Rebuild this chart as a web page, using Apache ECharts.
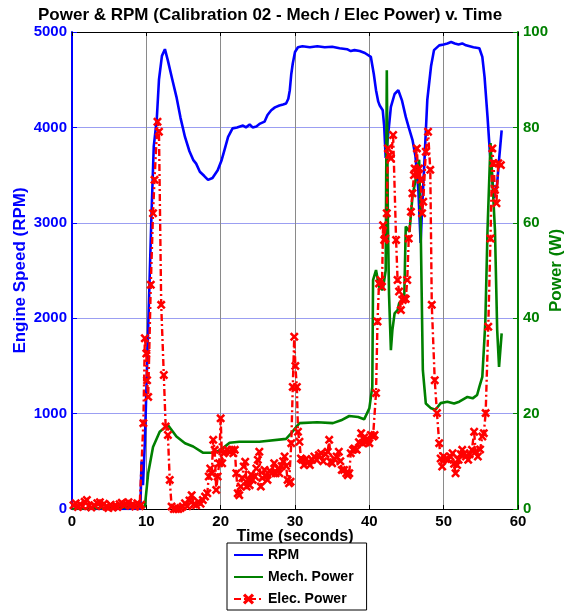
<!DOCTYPE html>
<html>
<head>
<meta charset="utf-8">
<script src="https://cdn.jsdelivr.net/npm/echarts@6/dist/echarts.min.js"></script>
<style>
  html, body { margin: 0; padding: 0; background: #fff; }
  #chart { width: 570px; height: 613px; }
</style>
</head>
<body>
<div id="chart"></div>
<script>
// Engine speed trace (seconds, RPM)
const rpmTime = [0, 9.2, 9.35, 9.55, 9.8, 10.1, 10.4, 10.7, 11.0, 11.4, 11.7, 12.1, 12.5, 12.9, 13.5, 14.05, 14.6, 15.2, 15.8, 16.3, 16.7, 17.2, 17.8, 18.3, 18.9, 19.6, 20.1, 20.5, 21.0, 21.6, 22.2, 22.6, 23.0, 23.4, 23.9, 24.3, 24.8, 25.3, 25.9, 26.3, 26.8, 27.3, 27.9, 28.4, 28.8, 29.1, 29.3, 29.5, 29.7, 30.0, 30.4, 31, 32, 33, 34, 35, 36, 37, 37.5, 38, 38.7, 39.4, 40.2, 40.6, 40.9, 41.2, 41.4, 41.8, 42.0, 42.2, 42.5, 42.9, 43.4, 43.9, 44.4, 44.9, 45.3, 45.8, 46.2, 46.6, 46.9, 47.1, 47.4, 47.8, 48.3, 48.7, 49.4, 50, 50.5, 51, 51.5, 52, 52.5, 53, 53.5, 54, 54.8, 55.2, 55.5, 55.9, 56.2, 56.55, 56.8, 57.2, 57.45, 57.8];
const rpmSpeed = [0, 0, 500, 250, 700, 1500, 2300, 3100, 3800, 4080, 4500, 4750, 4820, 4700, 4500, 4320, 4100, 3900, 3750, 3660, 3620, 3535, 3490, 3450, 3470, 3550, 3650, 3760, 3900, 3990, 4000, 4010, 4020, 4000, 4030, 4000, 4010, 4040, 4060, 4130, 4180, 4210, 4230, 4240, 4250, 4300, 4390, 4560, 4670, 4790, 4840, 4850, 4840, 4850, 4840, 4845, 4830, 4820, 4800, 4810, 4800, 4780, 4740, 4560, 4390, 4270, 4230, 4180, 4010, 3680, 3900, 4215, 4350, 4390, 4280, 4110, 4000, 3870, 3700, 3340, 2790, 3150, 3625, 4290, 4640, 4810, 4860, 4870, 4880, 4895, 4880, 4870, 4880, 4860, 4850, 4840, 4830, 4740, 4530, 4110, 3760, 3450, 3260, 3415, 3660, 3970];

// Mechanical power trace (seconds, W)
const mechTime = [0, 9.8, 10.25, 10.9, 11.8, 12.9, 14.05, 15.2, 16.3, 17.6, 19.2, 20.1, 21.2, 22.5, 25.2, 28.8, 29.5, 30.6, 33, 35.1, 36.2, 37.3, 38.5, 39.3, 40.0, 40.4, 40.5, 40.9, 41.3, 41.8, 42.2, 42.35, 42.5, 42.65, 42.9, 43.1, 43.4, 43.8, 44.0, 44.25, 44.7, 44.9, 45.4, 45.8, 46.3, 46.7, 46.9, 47.2, 47.6, 48.3, 48.9, 49.6, 50.5, 51.4, 52.1, 53.2, 53.9, 54.5, 54.8, 55.2, 55.6, 55.9, 56.3, 56.9, 57.2, 57.45, 57.8];
const mechPower = [0, 0.5, 7.5, 13, 16.2, 17.6, 15.2, 13.8, 13.1, 11.8, 11.8, 12.5, 13.9, 14.1, 14.1, 14.7, 15.9, 18.0, 18.2, 18.0, 18.6, 19.5, 19.3, 18.8, 21.1, 25.6, 48, 50.1, 46.6, 45.9, 50, 92, 60, 45, 33.3, 37.5, 41, 41.7, 43.1, 42.8, 44.5, 59.2, 58.1, 65.5, 69.7, 73.2, 60, 29.1, 22.1, 21.1, 20.8, 22.2, 22.5, 22.1, 22.5, 23.5, 23.2, 23.9, 25.6, 27.7, 39, 58.5, 76.7, 58.5, 37.5, 29.8, 36.8];

// Electrical power samples (seconds, W)
const elecTime = [0.2, 0.5, 0.8, 1.1, 1.4, 1.7, 2.0, 2.3, 2.6, 3.0, 3.4, 3.75, 4.0, 4.3, 4.6, 4.9, 5.2, 5.5, 5.8, 6.1, 6.4, 6.7, 7.0, 7.3, 7.6, 7.9, 8.2, 8.5, 8.8, 9.1, 9.3,
  9.6, 9.8, 10.0, 10.1, 10.25, 10.6, 10.9, 11.1, 11.5, 11.7, 12.0, 12.35, 12.6, 12.9, 13.15, 13.4, 13.7, 14.0, 14.3, 14.6, 14.9, 15.2, 15.5, 15.8, 16.1, 16.4, 16.7, 17.0, 17.3, 17.6, 17.9, 18.2, 18.4, 18.6, 18.8,
  19.0, 19.2, 19.4, 19.6, 19.8, 20.0, 20.2, 20.4, 20.6, 20.9, 21.2, 21.5, 21.7, 21.9, 22.1, 22.3, 22.5, 22.7, 22.9, 23.1, 23.3, 23.5, 23.7, 23.9, 24.1, 24.3, 24.6, 24.8, 25.0, 25.2, 25.4, 25.6, 25.9, 26.1, 26.3, 26.6, 26.9, 27.2, 27.4, 27.7, 27.9, 28.2, 28.4, 28.6, 28.8, 29.0, 29.2, 29.4, 29.5, 29.7, 29.9, 30.05, 30.25, 30.4, 30.6,
  30.8, 31.0, 31.2, 31.5, 31.8, 32.0, 32.3, 32.6, 32.9, 33.2, 33.5, 33.8, 34.1, 34.4, 34.6, 34.8, 35.0, 35.3, 35.6, 35.9, 36.1, 36.3, 36.6, 36.9, 37.1, 37.3, 37.5, 37.8, 38.0, 38.3, 38.6, 38.9, 39.1, 39.3, 39.5, 39.8, 40.0, 40.2, 40.5, 40.7, 40.9, 41.1, 41.3, 41.5, 41.7, 41.85, 42.0, 42.15, 42.35, 42.5, 42.7, 42.9, 43.2, 43.6, 43.8, 44.0, 44.25, 44.5, 44.7, 44.9, 45.1, 45.3, 45.6, 45.8, 46.0, 46.1, 46.4, 46.55, 46.7, 46.9, 47.1, 47.25, 47.6, 47.9, 48.2, 48.4, 48.8, 49.1, 49.4, 49.6, 49.8,
  50.0, 50.3, 50.6, 50.9, 51.2, 51.4, 51.6, 51.8, 52.0, 52.3, 52.5, 52.8, 53.0, 53.3, 53.5, 53.8, 54.1, 54.3, 54.6, 54.9, 55.2, 55.4, 55.65, 56.0, 56.3, 56.55, 56.7, 56.9, 57.1, 57.35, 57.7];
const elecPower = [0.8, 1.2, 0.4, 1.0, 0.6, 1.5, 1.9, 0.7, 0.3, 0.8, 1.2, 1.4, 0.6, 1.1, 0.5, 0.2, 0.9, 0.3, 0.7, 0.4, 1.0, 1.3, 0.8, 1.1, 1.4, 0.7, 1.0, 0.5, 1.2, 0.6, 0.9,
  18, 35.8, 32.6, 27, 23.5, 47, 62, 69, 81.2, 79.1, 42.8, 28.1, 17.3, 15.5, 6.1, 0.5, 0, 0, 0, 0.2, 0.5, 1.2, 0.6, 1.8, 2.9, 1.0, 0.8, 1.5, 1.1, 1.9, 2.6, 3.3, 6.8, 8.5, 7.5,
  14.5, 12.4, 4.0, 6.8, 9.6, 19.0, 9.6, 11.7, 12.0, 12.4, 12.0, 12.4, 11.7, 12.4, 7.5, 3.3, 2.9, 4.7, 6.5, 8.9, 9.9, 4.7, 6.1, 5.0, 7.2, 6.1, 6.8, 8.5, 10.3, 12.0, 4.7, 6.5, 8.2, 7.0, 6.1, 8.0, 7.5, 9.6, 7.5, 8.5, 7.5, 9.0, 10.0, 11.0, 9.0, 6.1, 5.4, 5.7, 13.8, 25.6, 36.1, 30.0, 25.6, 16.2, 14.1,
  10.6, 10.3, 9.2, 10.5, 9.8, 9.2, 10.3, 11.0, 10.3, 11.3, 11.7, 10.0, 11.5, 12.0, 14.5, 9.9, 9.6, 10.5, 11.0, 12.0, 10.0, 8.2, 8.2, 7.5, 7.1, 7.5, 11.7, 12.4, 12.7, 12.4, 14.0, 15.9, 13.8, 15.0, 14.0, 14.5, 13.8, 15.5, 15.2, 15.5, 24.3, 39.3, 47.3, 48.0, 46.6, 59.5, 56.4, 56.7, 62.0, 75.6, 74.2, 73.5, 78.4, 56.4, 48.0, 45.6, 41.7, 43.8, 44.2, 44.0, 48.0, 56.7, 62.3, 66.2, 70.0, 71.4, 75.6, 70.0, 71.4, 69.0, 62.0, 64.4, 74.9, 79.1, 71.1, 42.8, 27.0, 20.1, 13.8, 10.6, 8.9,
  11.0, 10.5, 10.3, 11.0, 11.7, 9.5, 7.5, 9.2, 10.3, 11.5, 12.4, 11.7, 11.0, 10.3, 11.5, 12.4, 16.2, 12.0, 11.0, 12.5, 15.2, 15.9, 20.1, 38.2, 56.7, 75.6, 72.5, 66.9, 64.1, 72.5, 72.1];

// Axis tick settings
const timeTicks = { min: 0, max: 60, step: 10 };
const rpmTicks = { min: 0, max: 5000, step: 1000 };
const powerTicks = { min: 0, max: 100, step: 20 };

const pairs = (xs, ys) => xs.map((x, i) => [x, ys[i]]);
const plain = v => String(v);

const FONT = '"Liberation Sans", Arial, sans-serif';
const BLUE = '#0000ff';
const GREEN = '#008000';
const RED = '#ff0000';
const CROSS = 'path://M0,2 L2,0 L5,3 L8,0 L10,2 L7,5 L10,8 L8,10 L5,7 L2,10 L0,8 L3,5 Z';

const chart = echarts.init(document.getElementById('chart'), null, { renderer: 'canvas' });

chart.setOption({
  animation: false,
  backgroundColor: '#ffffff',
  title: {
    text: 'Power & RPM (Calibration 02 - Mech / Elec Power) v. Time',
    left: 33,
    top: 2,
    textStyle: { fontFamily: FONT, fontWeight: 'bold', fontSize: 17, color: '#000' }
  },
  grid: { left: 72, right: 52, top: 32, bottom: 104, containLabel: false, outerBoundsMode: 'none' },
  legend: {
    orient: 'vertical',
    left: 227,
    top: 543,
    padding: [5, 13, 4, 6],
    itemWidth: 29,
    itemHeight: 14,
    itemGap: 8,
    backgroundColor: '#ffffff',
    borderColor: '#000000',
    borderWidth: 1,
    textStyle: { fontFamily: FONT, fontWeight: 'bold', fontSize: 14, color: '#000' },
    data: [
      { name: 'RPM', itemStyle: { opacity: 0 } },
      { name: 'Mech. Power', itemStyle: { opacity: 0 } },
      { name: 'Elec. Power' }
    ]
  },
  xAxis: [{
    type: 'value',
    min: timeTicks.min, max: timeTicks.max, interval: timeTicks.step,
    name: 'Time (seconds)',
    nameLocation: 'middle',
    nameGap: 20,
    nameMoveOverlap: false,
    nameTextStyle: { fontFamily: FONT, fontWeight: 'bold', fontSize: 16, color: '#000' },
    axisLine: { show: true, onZero: false, lineStyle: { color: '#000', width: 1 } },
    axisTick: { show: true, inside: true, length: 4, lineStyle: { color: '#000' } },
    axisLabel: { fontFamily: FONT, fontWeight: 'bold', fontSize: 15, color: '#000', margin: 5, formatter: plain },
    splitLine: { show: true, lineStyle: { color: '#8a8a8a', width: 1 } }
  }, {
    type: 'value', position: 'top',
    min: timeTicks.min, max: timeTicks.max, interval: timeTicks.step,
    axisLine: { show: true, onZero: false, lineStyle: { color: '#000', width: 1 } },
    axisTick: { show: true, inside: true, length: 4, lineStyle: { color: '#000' } },
    axisLabel: { show: false },
    splitLine: { show: false }
  }],
  yAxis: [{
    type: 'value',
    position: 'left',
    min: rpmTicks.min, max: rpmTicks.max, interval: rpmTicks.step,
    name: 'Engine Speed (RPM)',
    nameLocation: 'middle',
    nameGap: 43,
    nameMoveOverlap: false,
    nameTextStyle: { fontFamily: FONT, fontWeight: 'bold', fontSize: 17, color: BLUE },
    axisLine: { show: true, onZero: false, lineStyle: { color: BLUE, width: 2 } },
    axisTick: { show: true, inside: true, length: 5, lineStyle: { color: BLUE, width: 1 } },
    axisLabel: { fontFamily: FONT, fontWeight: 'bold', fontSize: 15, color: BLUE, margin: 5, formatter: plain },
    splitLine: { show: true, lineStyle: { color: '#9b9ef2', width: 1 } }
  }, {
    type: 'value',
    position: 'right',
    min: powerTicks.min, max: powerTicks.max, interval: powerTicks.step,
    name: 'Power (W)',
    nameLocation: 'middle',
    nameGap: 30,
    nameRotate: 90,
    nameMoveOverlap: false,
    nameTextStyle: { fontFamily: FONT, fontWeight: 'bold', fontSize: 17, color: GREEN },
    axisLine: { show: true, onZero: false, lineStyle: { color: GREEN, width: 2 } },
    axisTick: { show: true, inside: true, length: 5, lineStyle: { color: GREEN, width: 1 } },
    axisLabel: { fontFamily: FONT, fontWeight: 'bold', fontSize: 15, color: GREEN, margin: 5, formatter: plain },
    splitLine: { show: false }
  }],
  series: [{
    name: 'RPM',
    type: 'line',
    yAxisIndex: 0,
    data: pairs(rpmTime, rpmSpeed),
    showSymbol: false,
    lineStyle: { color: BLUE, width: 2.6 },
    itemStyle: { color: BLUE },
    z: 2
  }, {
    name: 'Mech. Power',
    type: 'line',
    yAxisIndex: 1,
    data: pairs(mechTime, mechPower),
    showSymbol: false,
    lineStyle: { color: GREEN, width: 2.6 },
    itemStyle: { color: GREEN },
    z: 3
  }, {
    name: 'Elec. Power',
    type: 'line',
    yAxisIndex: 1,
    data: pairs(elecTime, elecPower),
    symbol: CROSS,
    symbolSize: 9,
    showAllSymbol: true,
    lineStyle: { color: RED, width: 2.4, type: [7, 3, 2, 3] },
    itemStyle: { color: RED },
    z: 4
  }]
});
</script>
</body>
</html>
